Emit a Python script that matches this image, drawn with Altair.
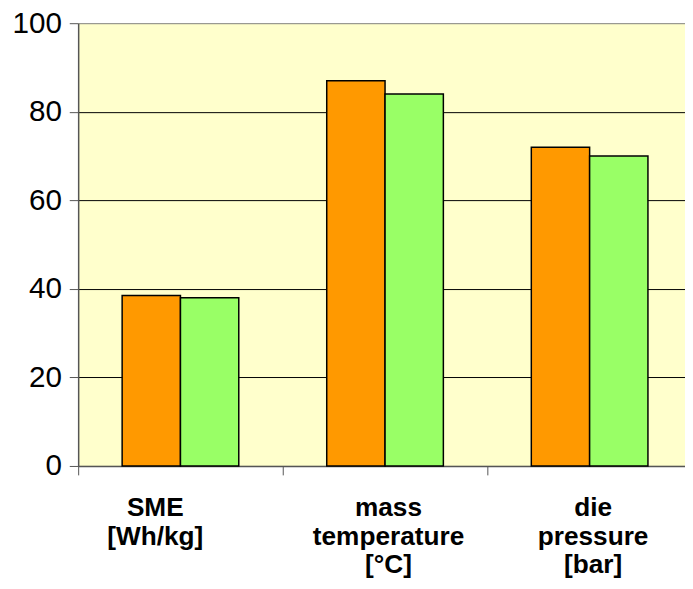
import altair as alt
import pandas as pd

categories = ["SME|[Wh/kg]", "mass|temperature|[°C]", "die|pressure|[bar]"]
series = ["Series 1", "Series 2"]
values_1 = [38.5, 87.0, 72.0]
values_2 = [38.0, 84.0, 70.0]
colors = ["#FF9900", "#99FF66"]
y_ticks = [0, 20, 40, 60, 80, 100]

rows = []
for c, a, b in zip(categories, values_1, values_2):
    rows.append({"category": c, "series": series[0], "value": a})
    rows.append({"category": c, "series": series[1], "value": b})
df = pd.DataFrame(rows)

FONT = "Liberation Sans, Arial, sans-serif"

chart = alt.Chart(df).mark_bar(stroke="black", strokeWidth=1.5).encode(
    x=alt.X(
        "category:N", sort=categories, title=None,
        scale=alt.Scale(paddingInner=0, paddingOuter=0),
        axis=alt.Axis(
            labelAngle=0, labelExpr="split(datum.label, '|')",
            tickBand="extent", grid=False,
            labelFont=FONT, labelFontSize=26.5, labelFontWeight="bold", labelColor="black",
            labelLineHeight=29, labelBaseline="top", labelPadding=20,
            labelOffset={"condition": {"test": "datum.value === 'SME|[Wh/kg]'", "value": -26}, "value": 3},
            tickSize=9, tickColor="#555555", domainColor="#555555", domainWidth=1.5,
            labelLimit=400,
        ),
    ),
    xOffset=alt.XOffset("series:N", sort=series,
                        scale=alt.Scale(paddingInner=0, paddingOuter=0.754)),
    y=alt.Y(
        "value:Q", title=None,
        scale=alt.Scale(domain=[0, 100]),
        axis=alt.Axis(
            values=y_ticks, grid=True,
            gridColor={"condition": {"test": "datum.value === 100", "value": "#808080"}, "value": "black"},
            gridWidth=1,
            labelFont=FONT, labelFontSize=30, labelColor="black", labelPadding=8,
            tickSize=9, tickColor="#555555", domainColor="#555555", domainWidth=1.5,
        ),
    ),
    color=alt.Color("series:N", scale=alt.Scale(domain=series, range=colors), legend=None),
).properties(
    width=621, height=448,
    autosize=alt.AutoSizeParams(type="none"),
    padding={"left": 71, "top": 12, "right": -7, "bottom": 113},
).configure_view(fill="#FFFFCC", stroke=None)

chart.save("out.html", embed_options={"renderer": "svg", "actions": False})
